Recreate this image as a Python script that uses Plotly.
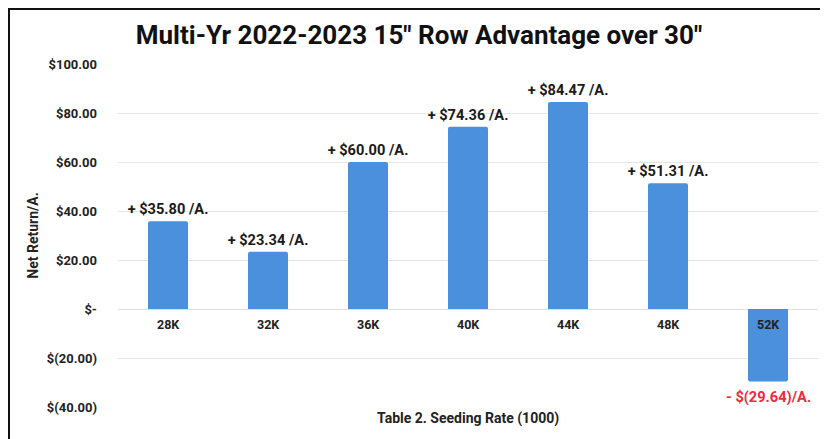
import plotly.graph_objects as go

categories = ["28K", "32K", "36K", "40K", "44K", "48K", "52K"]
net_return = [35.80, 23.34, 60.00, 74.36, 84.47, 51.31, -29.64]
tick_vals = [100, 80, 60, 40, 20, 0, -20, -40]
tick_text = ["$100.00", "$80.00", "$60.00", "$40.00", "$20.00", "$-", "$(20.00)", "$(40.00)"]

labels = [f"+ ${v:.2f} /A." if v >= 0 else f"- $({abs(v):.2f})/A." for v in net_return]
text_pos = ["outside" if v >= 0 else "none" for v in net_return]

# page body has an 8px margin, so the figure starts at (8, 8) in the window
W, H = 820, 431
ml, mr, mt, mb = 110, 10, 56, 32
pw, ph = W - ml - mr, H - mt - mb

fig = go.Figure()
fig.add_trace(go.Bar(
    x=categories, y=net_return,
    marker=dict(color="#4a90dc", line=dict(width=0), cornerradius=2),
    text=labels, textposition=text_pos, constraintext="none",
    textfont=dict(family="Roboto", size=14.6, color="#1a1a1a", weight="bold"),
    cliponaxis=False, width=0.4,
))

for c in categories:
    fig.add_annotation(x=c, y=0, yshift=-15, text=f"<b>{c}</b>", showarrow=False,
                       font=dict(family="Roboto", size=12.5, color="#222222"))

for c, v, t in zip(categories, net_return, labels):
    if v < 0:
        fig.add_annotation(x=c, y=v, yshift=-15, text=f"<b>{t}</b>", showarrow=False,
                           yanchor="middle",
                           font=dict(family="Roboto", size=14.6, color="#ee2a3c"))

fig.add_annotation(xref="paper", yref="paper", x=0.5, y=0, yshift=-11, yanchor="middle",
                   text="<b>Table 2. Seeding Rate (1000)</b>", showarrow=False,
                   font=dict(family="Roboto", size=14, color="#222222"))

def px_x(p):
    return (p - ml) / pw
def px_y(p):
    return (H - mb - p) / ph

fig.add_shape(type="line", xref="paper", yref="paper", x0=px_x(1), x1=px_x(1), y0=px_y(0), y1=px_y(H + 5),
              line=dict(color="#111111", width=2))
fig.add_shape(type="line", xref="paper", yref="paper", x0=px_x(0), x1=px_x(W + 5), y0=px_y(1), y1=px_y(1),
              line=dict(color="#111111", width=2))
fig.add_shape(type="line", xref="paper", yref="paper", x0=px_x(814), x1=px_x(814), y0=px_y(3), y1=px_y(H + 5),
              line=dict(color="#dddddd", width=1))

fig.update_layout(
    width=W, height=H,
    margin=dict(l=ml, r=mr, t=mt, b=mb),
    paper_bgcolor="white", plot_bgcolor="white",
    showlegend=False,
    title=dict(text="<b>Multi-Yr 2022-2023 15\" Row Advantage over 30\"</b>",
               x=(419 - 8) / W, xanchor="center", y=1 - 27 / H, yanchor="middle",
               font=dict(family="Roboto", size=26, color="#111111")),
    font=dict(family="Roboto", color="#222222"),
    bargap=0.6,
)
fig.update_xaxes(showticklabels=False, showgrid=False, zeroline=False, showline=False)
fig.update_yaxes(range=[-40, 100], tickvals=tick_vals, ticktext=tick_text,
                 tickfont=dict(family="Roboto", size=13, color="#222222", weight="bold"),
                 ticklabelstandoff=20,
                 showgrid=True, gridcolor="#e6e6e6", gridwidth=1,
                 zeroline=True, zerolinecolor="#e0e0e0", zerolinewidth=1,
                 title=dict(text="<b>Net Return/A.</b>", standoff=4,
                            font=dict(family="Roboto", size=14, color="#222222")))

fig.write_html("out.html")
